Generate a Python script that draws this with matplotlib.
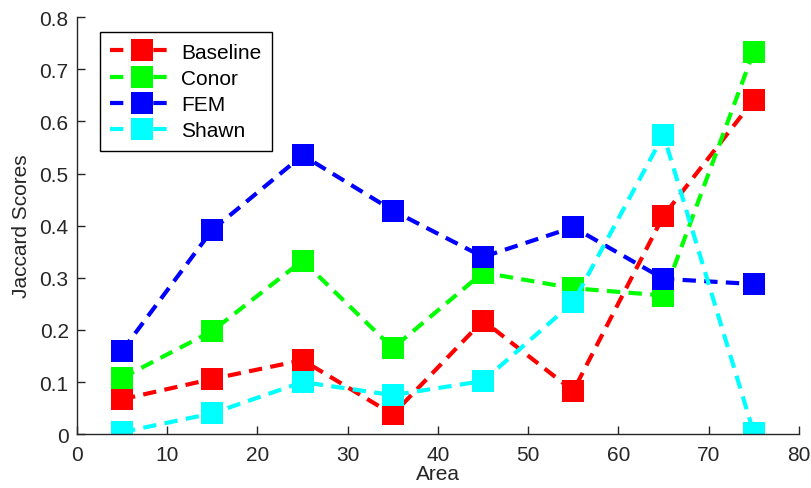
import matplotlib.pyplot as plt

area = [5, 15, 25, 35, 45, 55, 65, 75]
baseline = [0.067, 0.106, 0.142, 0.038, 0.218, 0.083, 0.419, 0.641]
conor = [0.108, 0.198, 0.333, 0.165, 0.310, 0.280, 0.266, 0.734]
fem = [0.160, 0.392, 0.535, 0.429, 0.340, 0.397, 0.298, 0.288]
shawn = [0.004, 0.040, 0.100, 0.075, 0.102, 0.253, 0.574, 0.003]

series = [
    ("Baseline", baseline, "#ff0000"),
    ("Conor", conor, "#00ff00"),
    ("FEM", fem, "#0000ff"),
    ("Shawn", shawn, "#00ffff"),
]

plt.rcParams["font.family"] = ["Liberation Sans", "DejaVu Sans"]

fig = plt.figure(figsize=(8.12, 4.89), dpi=100)
ax = fig.add_axes([0.0948, 0.110, 0.889, 0.853])

for name, vals, col in series:
    ax.plot(area, vals, color=col, lw=3, dashes=(3.2, 2), marker="s",
            markersize=15.5, markeredgewidth=0, label=name)

ax.set_xlim(0, 80)
ax.set_ylim(0, 0.8)
ax.set_xticks(range(0, 81, 10))
ax.set_yticks([i / 10 for i in range(9)])
ax.set_yticklabels(["0"] + [f"{i / 10:.1f}" for i in range(1, 9)])
ax.spines["top"].set_visible(False)
ax.spines["right"].set_visible(False)
for s in ("left", "bottom"):
    ax.spines[s].set_color("#262626")
    ax.spines[s].set_linewidth(1.0)
ax.tick_params(direction="in", length=6, width=1, color="#262626",
               labelsize=15, labelcolor="#262626", pad=6)
ax.tick_params(axis="x", pad=8)
ax.set_xlabel("Area", fontsize=15, color="#262626", labelpad=0)
ax.set_ylabel("Jaccard Scores", fontsize=15, color="#262626", labelpad=6)

leg = ax.legend(loc="upper left", bbox_to_anchor=(0.032, 0.964), fontsize=15,
                handlelength=3.0, handletextpad=0.4, labelspacing=0.35,
                borderpad=0.5, borderaxespad=0, fancybox=False,
                edgecolor="black", framealpha=1)
leg.get_frame().set_linewidth(1.0)

fig.savefig("out.png", dpi=100)
